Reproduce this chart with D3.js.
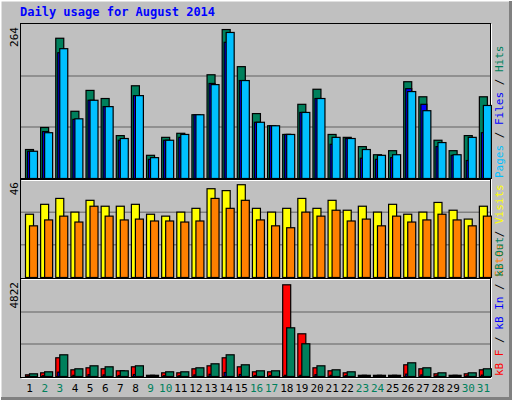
<!DOCTYPE html>
<html><head><meta charset="utf-8">
<script src="https://cdn.jsdelivr.net/npm/d3@7"></script>
<style>body{margin:0;background:#fff}text{font-family:"DejaVu Sans Mono",monospace}</style>
</head><body>
<script>
// daily stats
const days = d3.range(1, 32);
const weekends = [2, 3, 9, 10, 16, 17, 23, 24, 30, 31];
const hits  = [50,88,242,116,152,138,74,160,40,71,78,110,179,257,193,112,91,76,128,154,76,71,55,41,48,167,141,66,48,74,141];
const files = [47,81,217,102,135,124,66,143,33,66,71,110,164,235,169,97,91,76,114,138,59,69,35,33,36,155,128,55,40,31,79];
const pages = [47,79,224,103,135,124,69,143,36,66,76,110,162,252,169,97,91,76,114,138,71,69,50,40,41,150,117,62,41,71,126];
const visits = [30,34.7,37.5,31,36.6,33.8,33.8,34.7,30,29.1,31,32.8,42.1,41.2,44,32.8,31,32.8,37.5,32.8,36.6,31.9,33.8,31,34.7,30,31,35.6,31.9,27.7,33.8];
const sites  = [24.5,27.3,29.1,26.3,33.8,29.1,27.3,27.7,26.8,26.8,26.3,26.8,37.5,32.8,36.6,27.3,24.5,23.6,31,29.1,31.9,26.8,27.7,24.5,29.1,26.3,27.3,30,27.3,24.5,29.1];
const kbF   = [85,185,940,336,437,387,286,487,60,185,185,387,537,940,487,236,236,4606,2145,437,286,185,60,60,60,588,387,135,60,135,336];
const kbIn  = [20,40,220,60,90,80,50,100,10,40,40,80,110,200,100,50,50,60,60,90,60,40,10,10,10,120,80,30,10,30,70];
const kbOut = [135,236,1090,387,537,487,286,537,60,236,236,437,638,1090,588,286,286,2446,1643,537,336,236,60,60,60,688,437,185,60,185,387];
const maxLabels = ["264", "46", "4822"];

const W = 512, H = 400;
const svg = d3.select("body").append("svg").attr("width", W).attr("height", H);
svg.append("rect").attr("width", W).attr("height", H).attr("fill", "#c0c0c0");
// bevelled window edge
svg.append("path").attr("d", `M0.5,${H} V0.5 H${W}`).attr("stroke", "#fff").attr("stroke-width", 2).attr("fill", "none");
svg.append("path").attr("d", `M1,${H - 1.5} H${W - 1.5} V1`).attr("stroke", "#808080").attr("stroke-width", 3).attr("fill", "none");

svg.append("text").attr("x", 20).attr("y", 16).attr("fill", "#0000ff")
  .attr("font-size", 12).attr("font-weight", "bold").text("Daily usage for August 2014");

const x = d3.scaleBand().domain(days).range([21, 490]);
const off = d => x(d) + 4;

const panels = [
  { top: 25, bot: 178, max: 264, label: maxLabels[0],
    series: [[hits, "#00805c", 0], [files, "#0000ff", 2], [pages, "#00c0ff", 4]],
    right: [["Pages", "#00c0ff"], [" / ", "#000"], ["Files", "#0000ff"], [" / ", "#000"], ["Hits", "#00805c"]] },
  { top: 180, bot: 277, max: 46, label: maxLabels[1],
    series: [[visits, "#ffff00", 0], [sites, "#ff8000", 4]],
    right: [["Sites", "#ff8000"], [" / ", "#000"], ["Visits", "#ffff00"]] },
  { top: 280, bot: 376, max: 4822, label: maxLabels[2],
    series: [[kbF, "#ff0000", 0], [kbIn, "#0000ff", 2], [kbOut, "#00805c", 4]],
    right: [["kB F", "#ff0000"], [" / ", "#000"], ["kB In", "#0000ff"], [" / ", "#000"], ["kB Out", "#00805c"]] }
];

panels.forEach(p => {
  const y = d3.scaleLinear().domain([0, p.max]).range([p.bot, p.top]);
  const g = svg.append("g");
  g.append("rect").attr("x", 20.5).attr("y", p.top - 1.5).attr("width", 470).attr("height", p.bot - p.top + 3)
    .attr("fill", "none").attr("stroke", "#000");
  g.append("path").attr("d", `M21.5,${p.bot + 2.5} H491.5 V${p.top - 1}`).attr("stroke", "#fff").attr("fill", "none");
  g.selectAll(".grid").data([p.max / 3, p.max * 2 / 3]).join("line")
    .attr("x1", 21).attr("x2", 490).attr("y1", d => y(d)).attr("y2", d => y(d))
    .attr("stroke", "#808080").attr("stroke-width", 1.5);
  p.series.forEach(([vals, col, dx]) => {
    const w = col === "#0000ff" ? 6 : 8;
    g.selectAll(null).data(days).join("rect")
      .attr("x", d => off(d) + dx + 0.5).attr("width", w)
      .attr("y", d => y(vals[d - 1]) + 0.5)
      .attr("height", d => Math.max(0, p.bot - y(vals[d - 1])))
      .attr("fill", col).attr("stroke", "#000").attr("stroke-width", 1.2);
  });
  g.append("text").attr("transform", `translate(18,${p.top + 2}) rotate(-90)`)
    .attr("text-anchor", "end").attr("font-size", 11).text(p.label);
  const t = g.append("text").attr("transform", `translate(503,${p.bot}) rotate(-90)`)
    .attr("font-size", 11).attr("xml:space", "preserve");
  p.right.forEach(([s, c]) => t.append("tspan").attr("fill", c).text(s));
});

svg.selectAll(".day").data(days).join("text")
  .attr("x", d => x(d) + x.bandwidth() / 2 + 1).attr("y", 392)
  .attr("text-anchor", "middle").attr("font-size", 11)
  .attr("fill", d => weekends.includes(d) ? "#00805c" : "#000").text(d => d);
</script>
</body></html>
